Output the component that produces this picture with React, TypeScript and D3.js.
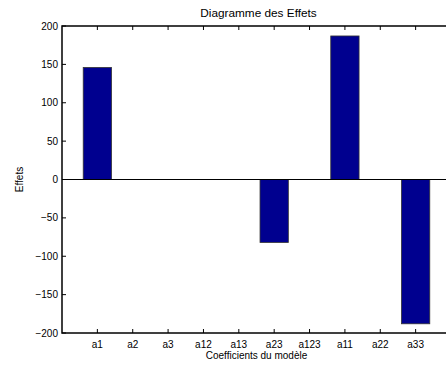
import React from "react";
import * as d3 from "d3";

const categories = ["a1", "a2", "a3", "a12", "a13", "a23", "a123", "a11", "a22", "a33"];
const effects = [146, 0, 0, 0, 0, -82, 0, 187, 0, -188];
const yTicks = [-200, -150, -100, -50, 0, 50, 100, 150, 200];

export default function App() {
  const width = 446;
  const height = 367;
  const left = 62;
  const top = 26;
  const bottom = 333;
  const right = 451;

  const x = d3.scaleLinear().domain([0, categories.length + 1]).range([left, right]);
  const y = d3.scaleLinear().domain([-200, 200]).range([bottom, top]);
  const barW = x(0.8) - x(0);
  const font = "Liberation Sans, Arial, sans-serif";
  const tick = 4;

  return (
    <svg
      width={width}
      height={height}
      style={{ position: "absolute", left: 0, top: 0, background: "#fff" }}
      fontFamily={font}
      fontSize={10}
    >
      {/* bars */}
      {effects.map((v, i) =>
        v === 0 ? null : (
          <rect
            key={i}
            x={x(i + 1) - barW / 2}
            y={y(Math.max(0, v))}
            width={barW}
            height={Math.abs(y(v) - y(0))}
            fill="#00008f"
            stroke="#333"
            strokeWidth={0.8}
          />
        )
      )}
      {/* zero line */}
      <line x1={left} x2={right} y1={y(0)} y2={y(0)} stroke="#000" strokeWidth={1} />

      {/* axes box */}
      <rect x={left} y={top} width={right - left} height={bottom - top} fill="none" stroke="#000" strokeWidth={1.5} />

      {/* x ticks */}
      {categories.map((c, i) => (
        <g key={c}>
          <line x1={x(i + 1)} x2={x(i + 1)} y1={bottom} y2={bottom - tick} stroke="#000" />
          <line x1={x(i + 1)} x2={x(i + 1)} y1={top} y2={top + tick} stroke="#000" />
          <text x={x(i + 1)} y={bottom + 14.5} textAnchor="middle" fill="#000">
            {c}
          </text>
        </g>
      ))}

      {/* y ticks */}
      {yTicks.map((t) => (
        <g key={t}>
          <line x1={left} x2={left + tick} y1={y(t)} y2={y(t)} stroke="#000" />
          <text x={left - 4} y={y(t) + 3.5} textAnchor="end" fill="#000">
            {t < 0 ? "\u2212" + Math.abs(t) : t}
          </text>
        </g>
      ))}

      <text x={(left + right) / 2 + 2} y={16.5} textAnchor="middle" fill="#000" fontSize={11.8}>
        Diagramme des Effets
      </text>
      <text x={(left + right) / 2} y={358.5} textAnchor="middle" fill="#000">
        Coefficients du modèle
      </text>
      <text transform={`translate(23,${y(0)}) rotate(-90)`} textAnchor="middle" fill="#000">
        Effets
      </text>
    </svg>
  );
}
